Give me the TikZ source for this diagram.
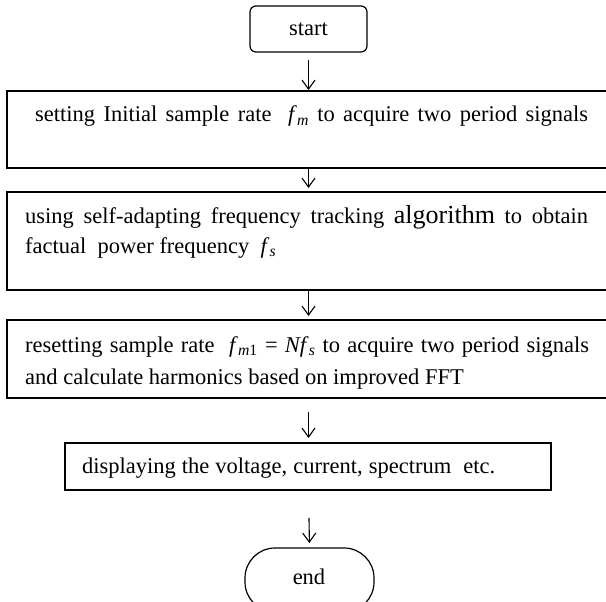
\documentclass[tikz,border=0pt]{standalone}
\usepackage{fontspec}
\setmainfont{Liberation Serif}
\usetikzlibrary{arrows.meta}
\begin{document}
\begin{tikzpicture}[x=1pt,y=-1pt,
  box/.style={draw,line width=1.4pt,inner sep=0pt,outer sep=0pt,anchor=north west},
  lbl/.style={inner sep=0pt,font=\fontsize{22.5}{32}\selectfont},
  arr/.style={line width=1.1pt,-{Straight Barb[length=9pt,width=13pt,line width=1.1pt]}}]
\useasboundingbox (0,0) rectangle (606,602);
% boxes
\node[box,rounded corners=6pt,line width=1.2pt,minimum width=117pt,minimum height=46pt] (start) at (250,6) {};
\node[box,minimum width=604pt,minimum height=77pt] (b1) at (7,91) {};
\node[box,minimum width=604pt,minimum height=98pt] (b2) at (7,192) {};
\node[box,minimum width=604pt,minimum height=78pt] (b3) at (7,320) {};
\node[box,minimum width=486pt,minimum height=47pt] (b4) at (65,443) {};
\node[box,rounded corners=30pt,line width=1.2pt,minimum width=129pt,minimum height=64pt] (end) at (245,548) {};
% texts
\node[lbl] (t0) at (start.center) {start};
\node[lbl,anchor=base west] (t1) at (35,122) {\hbox to 553pt{setting Initial sample rate \ \textit{f}\textsubscript{\textit{m}} to acquire two period signals}};
\node[lbl,anchor=north west,align=left,font=\fontsize{22.5}{30}\selectfont] (t2) at (25,205)
  {\hbox to 563pt{using self-adapting frequency tracking {\fontsize{26}{30}\selectfont algorithm} to obtain}\\factual\ \ power frequency \ \textit{f}\textsubscript{\textit{s}}};
\node[lbl,anchor=north west,align=left] (t3) at (25,336)
  {\hbox to 564pt{resetting sample rate \ \textit{f}\textsubscript{\textit{m}1} = \textit{Nf}\textsubscript{\textit{s}} to acquire two period signals}\\and calculate harmonics based on improved FFT};
\node[lbl,anchor=base west] (t4) at (82,473) {\hbox to 413pt{displaying the voltage, current, spectrum\ \ etc.}};
\node[lbl] (t5) at (309,577) {end};
% arrows
\draw[arr,shorten <=8pt,shorten >=1pt] (start.south) -- (start.south |- b1.north);
\draw[arr,shorten <=1pt,shorten >=4pt] (start.south |- b1.south) -- (start.south |- b2.north);
\draw[arr,shorten <=1pt,shorten >=4pt] (start.south |- b2.south) -- (start.south |- b3.north);
\draw[arr,shorten <=14pt,shorten >=5pt] (start.south |- b3.south) -- (start.south |- b4.north);
\draw[arr,shorten <=28pt,shorten >=5pt] (start.south |- b4.south) -- (end.north);
\end{tikzpicture}
\end{document}
